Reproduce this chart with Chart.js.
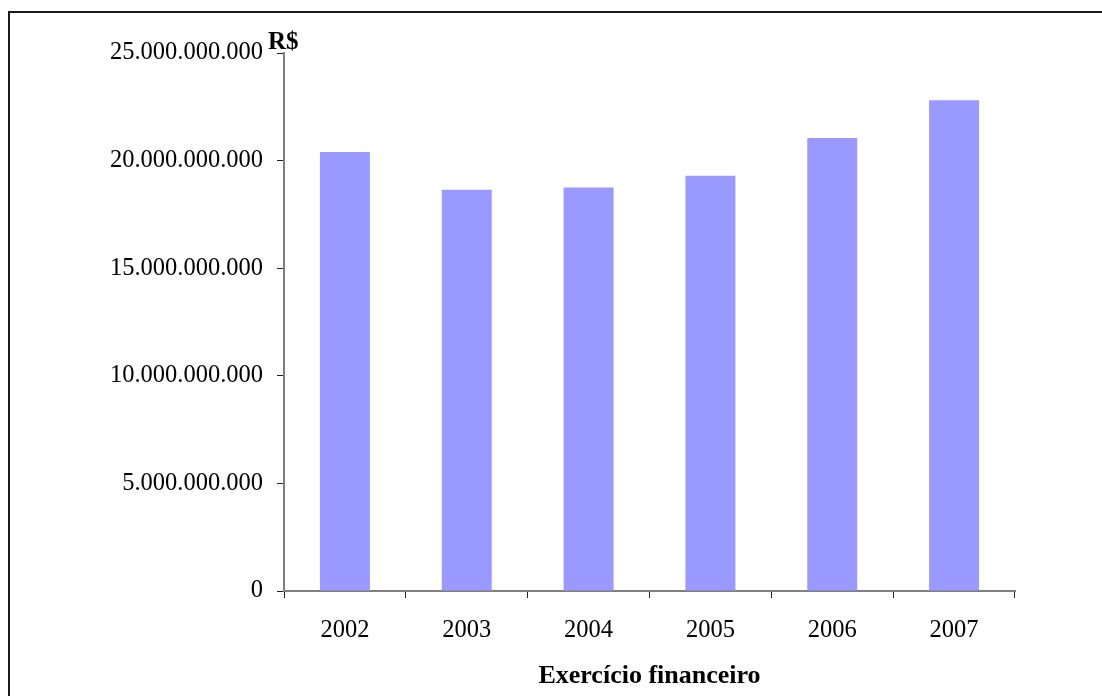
<!DOCTYPE html>
<html lang="pt-BR">
<head>
<meta charset="utf-8">
<title>Exercício financeiro</title>
<script src="https://cdn.jsdelivr.net/npm/chart.js@4.4.1/dist/chart.umd.min.js"></script>
<style>
  html, body { margin: 0; padding: 0; background: #fff; overflow: hidden; }
  #wrap { position: relative; width: 1102px; height: 696px; overflow: hidden; }
  #frame {
    position: absolute; left: 8px; top: 11px; width: 1300px; height: 900px;
    border-left: 2px solid #1a1a1a; border-top: 2px solid #1a1a1a;
  }
  #grafico { position: absolute; left: 0; top: 0; }
</style>
</head>
<body>
<div id="wrap">
  <div id="frame"></div>
  <canvas id="grafico" width="1102" height="696"></canvas>
</div>
<script>
// Exercícios financeiros e valores anuais (R$)
const anos = ['2002', '2003', '2004', '2005', '2006', '2007'];
const valores = [20400000000, 18650000000, 18750000000, 19300000000, 21050000000, 22800000000];
const eixoY = { min: 0, max: 25000000000, passo: 5000000000 };
const rotuloY = 'R$';
const tituloX = 'Exercício financeiro';

// formato brasileiro com ponto como separador de milhar
function formatarBR(v) {
  return String(Math.round(v)).replace(/\B(?=(\d{3})+(?!\d))/g, '.');
}

const fonte = "'Liberation Serif', 'Times New Roman', serif";

// rótulo "R$" no topo do eixo vertical
const rotuloEixo = {
  id: 'rotuloEixo',
  afterDraw(chart) {
    const y = chart.scales.y;
    const ctx = chart.ctx;
    ctx.save();
    ctx.font = 'bold 25px ' + fonte;
    ctx.fillStyle = '#000';
    ctx.textAlign = 'left';
    ctx.textBaseline = 'alphabetic';
    ctx.fillText(rotuloY, y.right - 16, y.top - 4);
    ctx.restore();
  }
};

new Chart(document.getElementById('grafico'), {
  type: 'bar',
  data: {
    labels: anos,
    datasets: [{
      data: valores,
      backgroundColor: '#9999FF',
      borderWidth: 0,
      barPercentage: 0.41,
      categoryPercentage: 1
    }]
  },
  options: {
    responsive: false,
    animation: false,
    devicePixelRatio: 1,
    layout: { padding: { left: 0, right: 87, top: 53, bottom: 0 } },
    plugins: {
      legend: { display: false },
      tooltip: { enabled: false }
    },
    scales: {
      y: {
        min: eixoY.min,
        max: eixoY.max,
        afterFit(scale) { scale.width = 284; },
        border: { color: '#808080', width: 2 },
        grid: { drawOnChartArea: false, drawTicks: true, tickLength: 7, color: '#222', lineWidth: 1 },
        ticks: {
          stepSize: eixoY.passo,
          padding: 14,
          color: '#000',
          font: { family: fonte, size: 24.5 },
          callback: (v) => formatarBR(v)
        }
      },
      x: {
        afterFit(scale) { scale.height = 105; },
        border: { color: '#808080', width: 2 },
        grid: { drawOnChartArea: false, drawTicks: true, tickLength: 7, color: '#222', lineWidth: 1, offset: true },
        ticks: {
          padding: 18,
          color: '#000',
          font: { family: fonte, size: 24.5 }
        },
        title: {
          display: true,
          text: tituloX,
          color: '#000',
          font: { family: fonte, size: 26, weight: 'bold' },
          padding: { top: 0, bottom: 4 }
        }
      }
    }
  },
  plugins: [rotuloEixo]
});
</script>
</body>
</html>
